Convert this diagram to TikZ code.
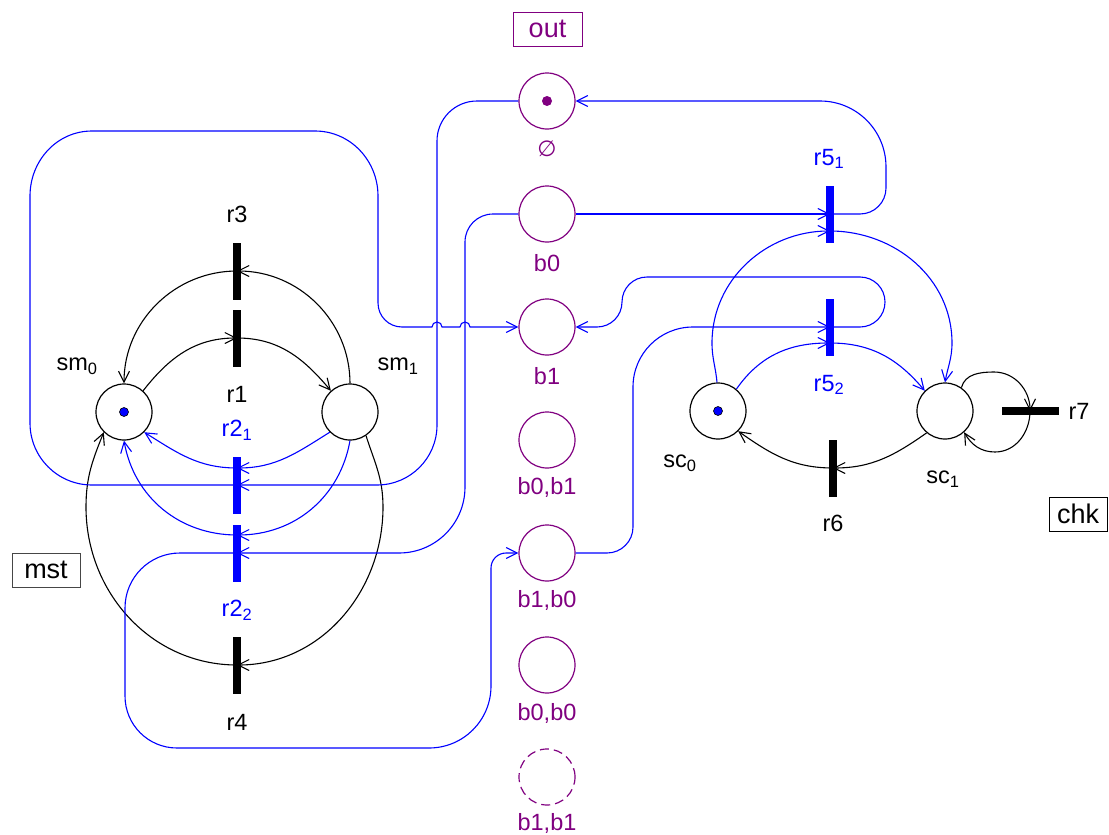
\documentclass[tikz,border=0pt]{standalone}
\usepackage{fontspec}
\setmainfont{Liberation Sans}
\newfontfamily\symbolfont{DejaVu Sans}
\usetikzlibrary{arrows.meta}
\definecolor{pnblue}{RGB}{0,0,255}
\definecolor{pnpurple}{RGB}{128,0,128}
\definecolor{boxgray}{RGB}{70,70,70}

\begin{document}
\begin{tikzpicture}[x=1pt,y=1pt,
  font=\fontsize{23.5}{28}\selectfont,
  place/.style={circle,draw,line width=1.2pt,minimum size=56pt,inner sep=0pt},
  bplace/.style={place,draw=pnpurple},
  trans/.style={fill,inner sep=0pt,minimum width=7.5pt,minimum height=57pt},
  htrans/.style={fill,inner sep=0pt,minimum width=57pt,minimum height=7.5pt},
  flow/.style={line width=1.1pt,-{Straight Barb[length=11pt,width=11pt]}},
  bflow/.style={flow,draw=pnblue},
  token/.style={circle,inner sep=0pt,minimum size=9pt,fill=pnblue,draw=black,line width=0.6pt},
  blabel/.style={text=pnpurple},
  tag/.style={draw,line width=1pt,inner sep=0pt,minimum height=34pt,font=\fontsize{27}{30}\selectfont},
]
\useasboundingbox (0,0) rectangle (1109,-835);

% ---------- places of the master component ----------
\node[place] (sm0) at (124,-412) {};
\node[place] (sm1) at (350,-412) {};
\node[token] (tsm0) at (sm0) {};
\node (lsm0) at (77,-366) {sm\textsubscript{0}};
\node (lsm1) at (398,-366) {sm\textsubscript{1}};

% ---------- transitions of the master component ----------
\node[trans] (r3) at (237,-271) {};
\node[trans] (r1) at (237,-338) {};
\node[trans,fill=pnblue] (r2a) at (237,-485) {};
\node[trans,fill=pnblue] (r2b) at (237,-553) {};
\node[trans] (r4) at (237,-665) {};
\node (lr3) at (237,-214) {r3};
\node (lr1) at (237,-394) {r1};
\node[text=pnblue] (lr2a) at (237,-430) {r2\textsubscript{1}};
\node[text=pnblue] (lr2b) at (237,-610) {r2\textsubscript{2}};
\node (lr4) at (237,-722) {r4};

% ---------- buffer places ----------
\node[bplace] (out) at (547,-101) {};
\node[bplace] (b0) at (547,-214) {};
\node[bplace] (b1) at (547,-327) {};
\node[bplace] (b0b1) at (547,-440) {};
\node[bplace] (b1b0) at (547,-553) {};
\node[bplace] (b0b0) at (547,-665) {};
\node[bplace,dashed,dash pattern=on 9pt off 5pt] (b1b1) at (547,-777) {};
\node[circle,fill=pnpurple,inner sep=0pt,minimum size=10pt] (tout) at (out) {};
\node[text=pnpurple,font=\symbolfont\fontsize{22}{26}\selectfont] (lout) at (547,-149) {∅};
\node[blabel] (lb0) at (547,-263) {b0};
\node[blabel] (lb1) at (547,-376) {b1};
\node[blabel] (lb0b1) at (547,-487) {b0,b1};
\node[blabel] (lb1b0) at (547,-600) {b1,b0};
\node[blabel] (lb0b0) at (547,-713) {b0,b0};
\node[blabel] (lb1b1) at (547,-823) {b1,b1};

% ---------- places of the checker component ----------
\node[place] (sc0) at (718,-411) {};
\node[place] (sc1) at (945,-411) {};
\node[token] (tsc0) at (sc0) {};
\node (lsc0) at (680,-463) {sc\textsubscript{0}};
\node (lsc1) at (943,-479) {sc\textsubscript{1}};

% ---------- transitions of the checker component ----------
\node[trans,fill=pnblue] (r5a) at (830,-214) {};
\node[trans,fill=pnblue] (r5b) at (830,-327) {};
\node[trans] (r6) at (833,-468) {};
\node[htrans] (r7) at (1030,-411) {};
\node[text=pnblue] (lr5a) at (829,-159) {r5\textsubscript{1}};
\node[text=pnblue] (lr5b) at (829,-385) {r5\textsubscript{2}};
\node (lr6) at (833,-523) {r6};
\node (lr7) at (1079,-411) {r7};

% ---------- component tags ----------
\node[tag,draw=pnpurple,text=pnpurple,minimum width=69pt] (tagout) at (547.5,-29) {out};
\node[tag,draw=boxgray,minimum width=68pt] (tagmst) at (46,-570) {mst};
\node[tag,draw=black,minimum width=58pt] (tagchk) at (1078,-514) {chk};

% ---------- master arcs ----------
\draw[flow] (sm0.48) to[out=52,in=180] (r1.center);
\draw[flow] (r1.center) to[out=0,in=130] (sm1.132);
\draw[flow] (sm1.90) to[out=90,in=0] (r3.center);
\draw[flow] (r3.center) to[out=180,in=90] (sm0.90);
\draw[flow] (sm1.-56) to[out=-72,in=90] (383,-507) to[out=-90,in=0] (r4.center);
\draw[flow] (r4.center) to[out=180,in=-90] (86,-507) to[out=90,in=-112] (sm0.-135);
\draw[bflow] (sm1.-135) to[out=-148,in=0] ([yshift=17pt]r2a.center);
\draw[bflow] ([yshift=17pt]r2a.center) to[out=180,in=-32] (sm0.-45);
\draw[bflow] (sm1.-90) to[out=-100,in=0] ([yshift=18pt]r2b.center);
\draw[bflow] ([yshift=18pt]r2b.center) to[out=180,in=-80] (sm0.-90);

% ---------- master <-> buffer arcs ----------
\draw[bflow] (out.west) -- (477,-101) to[out=180,in=90] (437,-141) -- (437,-425)
  to[out=-90,in=0] (377,-485) -- (r2a.center);
\draw[bflow] (r2a.center) -- (92,-485) to[out=180,in=-90] (30,-423) -- (30,-196)
  to[out=90,in=180] (92,-131) -- (315,-131) to[out=0,in=90] (378,-196) -- (378,-303)
  to[out=-90,in=180] (402,-327) -- (432,-327) arc[start angle=180,end angle=0,radius=5pt]
  -- (460,-327) arc[start angle=180,end angle=0,radius=5pt] -- (b1.west);
\draw[bflow] (b0.west) -- (493,-214) to[out=180,in=90] (465,-242) -- (465,-487)
  to[out=-90,in=0] (399,-553) -- (r2b.center);
\draw[bflow] (r2b.center) -- (180,-553) to[out=180,in=90] (125,-608) -- (125,-696)
  to[out=-90,in=180] (177,-748) -- (429,-748) to[out=0,in=-90] (491,-686) -- (491,-568)
  to[out=90,in=180] (506,-553) -- (b1b0.west);

% ---------- buffer <-> checker arcs ----------
\draw[bflow] (b0.east) -- (r5a.center);
\draw[bflow] (r5a.center) -- (860,-214) to[out=0,in=-90] (886,-188) -- (886,-167)
  to[out=90,in=0] (820,-101) -- (out.east);
\draw[bflow] (r5b.center) -- (860,-327) to[out=0,in=-90] (885,-302)
  to[out=90,in=0] (860,-277) -- (647,-277) to[out=180,in=90] (622,-302)
  to[out=-90,in=0] (597,-327) -- (b1.east);
\draw[bflow] (b1b0.east) -- (607,-553) to[out=0,in=-90] (633,-527) -- (633,-387)
  to[out=90,in=180] (693,-327) -- (r5b.center);

% ---------- checker arcs ----------
\draw[bflow] (sc0.92) to[out=95,in=-90] (712,-343) to[out=90,in=180] ([yshift=-17pt]r5a.center);
\draw[bflow] ([yshift=-17pt]r5a.center) to[out=0,in=90] (952,-343) to[out=-90,in=80] (sc1.90);
\draw[bflow] (sc0.50) to[out=55,in=180] ([yshift=-16pt]r5b.center);
\draw[bflow] ([yshift=-16pt]r5b.center) to[out=0,in=130] (sc1.135);
\draw[flow] (sc1.-130) to[out=-145,in=0] (r6.center);
\draw[flow] (r6.center) to[out=180,in=-35] (sc0.-45);
\draw[flow] (sc1.55) to[out=75,in=180] (994,-372) to[out=0,in=90] (r7.center);
\draw[flow] (r7.center) to[out=-90,in=0] (995,-452) to[out=180,in=-60] (sc1.-48);
\end{tikzpicture}
\end{document}
